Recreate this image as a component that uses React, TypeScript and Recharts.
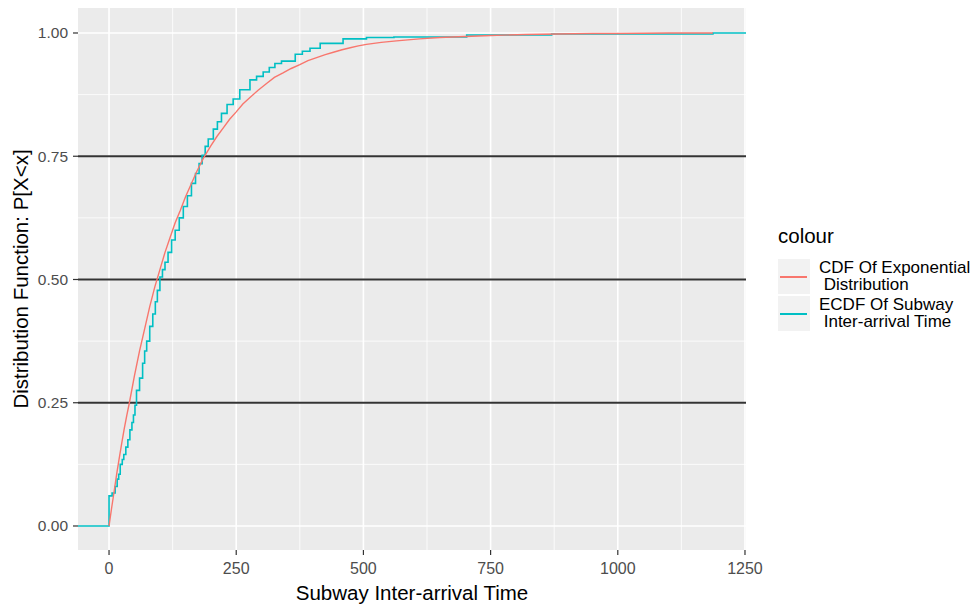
import React from 'react';
import {
    LineChart,
    Line,
    XAxis,
    YAxis,
    CartesianGrid,
    ReferenceLine
} from 'recharts';

// Empirical CDF of subway inter-arrival times (step function)
const ecdfX = [-61, 0, 6, 12, 16, 19, 22, 26, 29, 33, 37, 41, 45, 48, 51, 54, 60, 66, 70, 74, 80, 86, 91, 95, 100,
    105, 110, 116, 123, 130, 138, 146, 154, 162, 170, 177, 183, 189, 195, 205, 213, 221, 232, 244, 257, 277, 290,
    303, 315, 326, 339, 366, 380, 395, 415, 460, 506, 560, 703, 870, 1187, 1252];
const ecdfY = [0, 0.061, 0.067, 0.08, 0.095, 0.105, 0.125, 0.135, 0.145, 0.16, 0.175, 0.195, 0.21, 0.225, 0.245,
    0.275, 0.3, 0.33, 0.355, 0.375, 0.405, 0.43, 0.455, 0.478, 0.505, 0.52, 0.535, 0.555, 0.58, 0.6, 0.625, 0.648,
    0.67, 0.695, 0.715, 0.735, 0.752, 0.77, 0.785, 0.805, 0.82, 0.837, 0.855, 0.866, 0.885, 0.905, 0.912, 0.921,
    0.93, 0.938, 0.943, 0.957, 0.963, 0.969, 0.979, 0.988, 0.991, 0.992, 0.996, 0.998, 1.0, 1.0];

// Fitted exponential CDF
const cdfX = [0, 5, 10, 15, 20, 25, 30, 35, 40, 50, 60, 70, 80, 90, 100, 110, 120, 130, 140, 150, 160, 172, 185,
    200, 212, 225, 237, 250, 263, 277, 293, 309, 325, 342, 358, 375, 391, 408, 425, 441, 458, 474, 490, 506, 535,
    565, 610, 650, 700, 750, 820, 880, 950, 1000, 1100, 1187];
const cdfY = [0, 0.036, 0.07, 0.105, 0.137, 0.168, 0.198, 0.225, 0.25, 0.305, 0.355, 0.4, 0.445, 0.485, 0.52,
    0.555, 0.585, 0.615, 0.64, 0.667, 0.69, 0.718, 0.745, 0.771, 0.79, 0.808, 0.825, 0.84, 0.856, 0.869, 0.884,
    0.897, 0.91, 0.919, 0.928, 0.936, 0.944, 0.95, 0.956, 0.961, 0.966, 0.97, 0.974, 0.977, 0.981, 0.984, 0.988,
    0.991, 0.993, 0.995, 0.997, 0.998, 0.999, 0.999, 1.0, 1.0];

const xTicks = [0, 250, 500, 750, 1000, 1250];
const xMinor = [125, 375, 625, 875, 1125];
const yTicks = [0, 0.25, 0.5, 0.75, 1];
const yMinor = [0.125, 0.375, 0.625, 0.875];
const hLines = [0.25, 0.5, 0.75];

const ecdfData = ecdfX.map((x, i) => ({ x, y: ecdfY[i] }));
const cdfData = cdfX.map((x, i) => ({ x, y: cdfY[i] }));

const FONT = '"Liberation Sans", Arial, sans-serif';
const RED = '#F8766D';
const CYAN = '#00BFC4';

const XTitle = ({ viewBox }: any) => (
    <text x={viewBox.x + viewBox.width / 2} y={600} textAnchor="middle"
        fontSize={20.5} fill="#000" fontFamily={FONT}>Subway Inter-arrival Time</text>
);

const YTitle = ({ viewBox }: any) => {
    const cx = 28;
    const cy = viewBox.y + viewBox.height / 2;
    return (
        <text x={cx} y={cy} transform={`rotate(-90, ${cx}, ${cy})`} textAnchor="middle"
            fontSize={20.5} fill="#000" fontFamily={FONT}>Distribution Function: P[X&lt;x]</text>
    );
};

const LegendKey = ({ color, top, lines }: { color: string; top: number; lines: string[] }) => (
    <div style={{ position: 'absolute', left: 778, top, height: 35, display: 'flex', alignItems: 'center' }}>
        <div style={{ width: 32, height: 35, background: '#F2F2F2', position: 'relative' }}>
            <div style={{ position: 'absolute', left: 2, right: 3, top: 17, height: 1.5, background: color }} />
        </div>
        <div style={{ marginLeft: 9, fontSize: 17, lineHeight: '16.5px', color: '#000', whiteSpace: 'pre' }}>
            {lines.join('\n')}
        </div>
    </div>
);

export default function App() {
    return (
        <div style={{ position: 'absolute', left: 0, top: 0, width: 974, height: 607, background: '#fff', fontFamily: FONT }}>
            <LineChart width={974} height={607} margin={{ top: 8, right: 228, bottom: 0, left: 0 }}>
                <CartesianGrid fill="#EBEBEB" stroke="#FFFFFF" strokeWidth={0.8}
                    verticalValues={xMinor} horizontalValues={yMinor} />
                <CartesianGrid stroke="#FFFFFF" strokeWidth={1.6}
                    verticalValues={xTicks} horizontalValues={yTicks} />
                <XAxis type="number" dataKey="x" domain={[-61, 1252]} ticks={xTicks} allowDataOverflow
                    height={57} axisLine={false} tickSize={5} tickMargin={8}
                    tickLine={{ stroke: '#333333', strokeWidth: 1.2 }}
                    tick={{ fill: '#4D4D4D', fontSize: 16, fontFamily: FONT }}
                    label={<XTitle />} />
                <YAxis type="number" dataKey="y" domain={[-0.0487, 1.0507]} ticks={yTicks} allowDataOverflow
                    width={78} axisLine={false} tickSize={5} tickMargin={5}
                    tickLine={{ stroke: '#333333', strokeWidth: 1.2 }}
                    tick={{ fill: '#4D4D4D', fontSize: 15.5, fontFamily: FONT }}
                    tickFormatter={(v: number) => v.toFixed(2)}
                    label={<YTitle />} />
                {hLines.map(v => (
                    <ReferenceLine key={v} y={v} stroke="#333333" strokeWidth={1.8} />
                ))}
                <Line data={ecdfData} dataKey="y" type="stepAfter" stroke={CYAN} strokeWidth={1.6}
                    dot={false} activeDot={false} isAnimationActive={false} />
                <Line data={cdfData} dataKey="y" type="linear" stroke={RED} strokeWidth={1.4}
                    dot={false} activeDot={false} isAnimationActive={false} />
            </LineChart>
            <div style={{ position: 'absolute', left: 778, top: 224, fontSize: 20.5, color: '#000' }}>colour</div>
            <LegendKey color={RED} top={259} lines={['CDF Of Exponential', ' Distribution']} />
            <LegendKey color={CYAN} top={296} lines={['ECDF Of Subway', ' Inter-arrival Time']} />
        </div>
    );
}
